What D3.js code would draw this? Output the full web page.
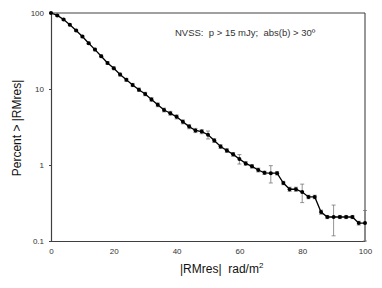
<!DOCTYPE html>
<html>
<head>
<meta charset="utf-8">
<script src="https://cdn.jsdelivr.net/npm/d3@7"></script>
<style>
  body { margin: 0; background: #fff; }
  svg { display: block; font-family: "Liberation Sans", Arial, sans-serif; }
</style>
</head>
<body>
<div id="chart"></div>
<script>
// Data
const rmres = [0, 2, 4, 6, 8, 10, 12, 14, 16, 18, 20, 22, 24, 26, 28, 30, 32, 34, 36, 38, 40,
               42, 44, 46, 48, 50, 52, 54, 56, 58, 60, 62, 64, 66, 68, 70, 72, 74, 76, 78, 80,
               82, 84, 86, 88, 90, 92, 94, 96, 98, 100];
const percent = [100, 93, 82, 70, 59, 49, 40, 33, 27, 22, 18.7, 15.5, 13.2, 11.3, 9.8, 8.6, 7.3, 6.2, 5.3, 4.8, 4.3,
                 3.7, 3.2, 2.85, 2.75, 2.5, 2.1, 1.75, 1.55, 1.38, 1.2, 1.05, 0.96, 0.86, 0.79, 0.78, 0.78, 0.58, 0.48, 0.48, 0.44,
                 0.38, 0.38, 0.24, 0.207, 0.207, 0.207, 0.207, 0.207, 0.172, 0.172];
const errors = [0.5, 2.5, 2.3, 2.1, 1.9, 1.7, 1.5, 1.3, 1.1, 0.9, 0.8, 0.7, 0.6, 0.55, 0.5, 0.45, 0.4, 0.35, 0.3, 0.28, 0.26,
                0.22, 0.2, 0.18, 0.17, 0.3, 0.12, 0.1, 0.09, 0.08, 0.17, 0.06, 0.05, 0.05, 0.04, 0.2, 0.04, 0.03, 0.03, 0.03, 0.12,
                0.02, 0.02, 0.015, 0.01, 0.09, 0.01, 0.01, 0.01, 0.01, 0.08];
const xTicks = [0, 20, 40, 60, 80, 100];
const yTicks = [0.1, 1, 10, 100];
const yTickLabels = ["0.1", "1", "10", "100"];

const config = {
  width  : 382,
  height : 288,
  left   : 51,
  right  : 365,
  top    : 13,
  bottom : 241
};

const svg = d3.select("#chart")
  .append("svg")
    .attr("width", config.width)
    .attr("height", config.height);

const x = d3.scaleLinear().domain([0, 100]).range([config.left, config.right]);
const y = d3.scaleLog().domain([0.1, 100]).range([config.bottom, config.top]);

// top / right frame of the plot area
svg.append("line")
  .attr("x1", config.left).attr("x2", config.right)
  .attr("y1", config.top).attr("y2", config.top)
  .style("stroke", "#808080").style("stroke-width", 1.5);
svg.append("line")
  .attr("x1", config.right).attr("x2", config.right)
  .attr("y1", config.top).attr("y2", config.bottom)
  .style("stroke", "#333").style("stroke-width", 1);

// axes
const xAxis = svg.append("g")
  .attr("transform", "translate(0," + config.bottom + ")")
  .call(d3.axisBottom(x).tickValues(xTicks).tickSize(0).tickPadding(7).tickFormat(d3.format("d")));
const yAxis = svg.append("g")
  .attr("transform", "translate(" + config.left + ",0)")
  .call(d3.axisLeft(y).tickValues(yTicks).tickSize(2).tickPadding(5)
        .tickFormat(function (d, i) { return yTickLabels[i]; }));

[xAxis, yAxis].forEach(function (g) {
  g.select(".domain").style("stroke", "#404040").style("stroke-width", 1.2);
  g.selectAll(".tick line").style("stroke", "#404040");
  g.selectAll(".tick text")
    .style("font-family", "Liberation Sans, Arial, sans-serif")
    .style("font-size", "8px")
    .style("fill", "#333");
});

// error bars
const bars = svg.append("g").selectAll(".err")
  .data(rmres.map(function (r, i) { return { r: r, p: percent[i], e: errors[i] }; }))
  .enter().append("g").attr("class", "err");
bars.append("line")
  .attr("x1", function (d) { return x(d.r); }).attr("x2", function (d) { return x(d.r); })
  .attr("y1", function (d) { return y(d.p + d.e); })
  .attr("y2", function (d) { return y(Math.max(d.p - d.e, 0.1)); })
  .style("stroke", "#777").style("stroke-width", 0.8);
bars.append("line")
  .attr("x1", function (d) { return x(d.r) - 2; }).attr("x2", function (d) { return x(d.r) + 2; })
  .attr("y1", function (d) { return y(d.p + d.e); }).attr("y2", function (d) { return y(d.p + d.e); })
  .style("stroke", "#777").style("stroke-width", 0.8);
bars.append("line")
  .attr("x1", function (d) { return x(d.r) - 2; }).attr("x2", function (d) { return x(d.r) + 2; })
  .attr("y1", function (d) { return y(Math.max(d.p - d.e, 0.1)); })
  .attr("y2", function (d) { return y(Math.max(d.p - d.e, 0.1)); })
  .style("stroke", "#777").style("stroke-width", 0.8);

// line + markers
const line = d3.line()
  .x(function (d, i) { return x(rmres[i]); })
  .y(function (d) { return y(d); });

svg.append("path")
  .datum(percent)
  .attr("d", line)
  .style("fill", "none")
  .style("stroke", "#000")
  .style("stroke-width", 1.3);

svg.append("g").selectAll("circle")
  .data(percent)
  .enter().append("circle")
    .attr("cx", function (d, i) { return x(rmres[i]); })
    .attr("cy", function (d) { return y(d); })
    .attr("r", 2)
    .style("fill", "#000");

// annotation
svg.append("text")
  .attr("x", 175).attr("y", 36)
  .style("font-size", "9.5px").style("fill", "#333")
  .text("NVSS:  p > 15 mJy;  abs(b) > 30\u00BA")
  .attr("xml:space", "preserve");

// axis titles
svg.append("text")
  .attr("transform", "translate(21," + 128 + ") rotate(-90)")
  .attr("text-anchor", "middle")
  .style("font-size", "12px").style("fill", "#111")
  .text("Percent > |RMres|");

const xt = svg.append("text")
  .attr("x", 180).attr("y", 273)
  .style("font-size", "12px").style("fill", "#111")
  .attr("xml:space", "preserve");
xt.append("tspan").text("|RMres|  rad/m");
xt.append("tspan").attr("dy", -5).style("font-size", "8px").text("2");
</script>
</body>
</html>
